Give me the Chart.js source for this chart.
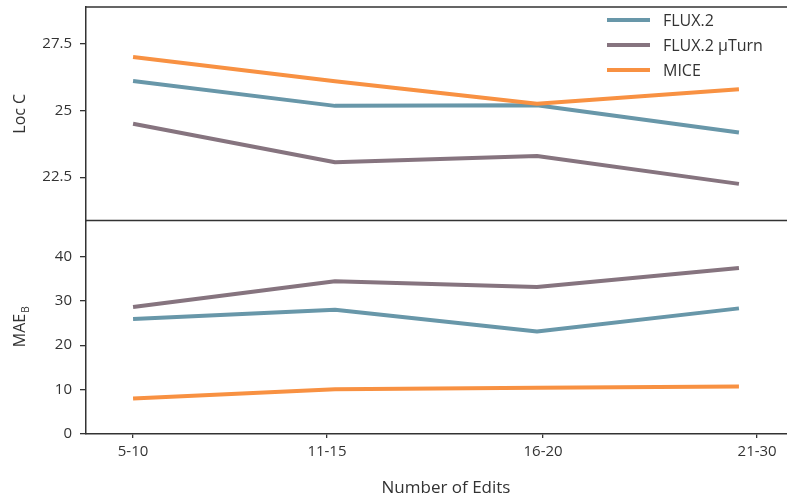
<!DOCTYPE html>
<html>
<head>
<meta charset="utf-8">
<script src="https://cdn.jsdelivr.net/npm/chart.js@4.4.1/dist/chart.umd.min.js"></script>
<style>
    html, body { margin: 0; padding: 0; background: #fff; }
    #wrap { width: 787px; height: 498px; overflow: hidden; }
</style>
</head>
<body>
<div id="wrap"><canvas id="chart" width="806" height="498"></canvas></div>
<script>
// ---------------------------------------------------------
// data
// ---------------------------------------------------------
const editBins = ['5-10', '11-15', '16-20', '21-30'];
const seriesNames = ['FLUX.2', 'FLUX.2 μTurn', 'MICE'];

const locCFlux   = [26.10, 25.17, 25.19, 24.17];
const locCUTurn  = [24.50, 23.06, 23.29, 22.25];
const locCMice   = [27.00, 26.09, 25.25, 25.79];

const maeFlux    = [25.9, 28.0, 23.1, 28.3];
const maeUTurn   = [28.6, 34.4, 33.1, 37.4];
const maeMice    = [8.0, 10.1, 10.4, 10.7];

const locCTicks = [22.5, 25, 27.5];
const maeTicks  = [0, 10, 20, 30, 40];

// ---------------------------------------------------------
// look
// ---------------------------------------------------------
const COLORS = ['#6897a9', '#86747f', '#f89142'];
const INK = '#333333';
const FONT = '"Open Sans", "DejaVu Sans", sans-serif';
// the x tick marks in the source sit a little off the data columns
const xTickAt = [0, 0.96, 2.03, 3.09];

function pts(values) {
    return values.map((v, i) => ({ x: i, y: v }));
}

function makeSet(i, values, axis) {
    return {
        label: seriesNames[i],
        data: pts(values),
        yAxisID: axis,
        borderColor: COLORS[i],
        backgroundColor: COLORS[i],
        borderWidth: 4,
        pointRadius: 0,
        borderJoinStyle: 'round',
        tension: 0,
        order: 2 - i
    };
}

const datasets = [
    makeSet(0, locCFlux, 'loc'), makeSet(1, locCUTurn, 'loc'), makeSet(2, locCMice, 'loc'),
    makeSet(0, maeFlux, 'mae'), makeSet(1, maeUTurn, 'mae'), makeSet(2, maeMice, 'mae')
];

function yAxis(min, max, tickList) {
    return {
        type: 'linear',
        position: 'left',
        stack: 'panels',
        stackWeight: 1,
        min: min,
        max: max,
        afterBuildTicks: s => { s.ticks = tickList.map(v => ({ value: v })); },
        afterFit: s => {
            s.width = 86;
            s.paddingTop = 0;
            s.paddingBottom = 0;
        },
        ticks: {
            color: INK,
            font: { family: FONT, size: 15 },
            padding: 8,
            callback: v => String(v)
        },
        grid: { drawOnChartArea: false, drawTicks: true, tickLength: 6, color: INK, lineWidth: 1.3 },
        border: { display: true, color: INK, width: 1.5 }
    };
}

// frame, divider, axis titles and the legend inside the top panel
const decorPlugin = {
    id: 'decor',
    afterDraw(chart) {
        const ctx = chart.ctx;
        const a = chart.chartArea;
        const loc = chart.scales.loc;
        ctx.save();
        ctx.strokeStyle = INK;
        ctx.lineWidth = 1.5;
        ctx.beginPath();
        ctx.moveTo(a.left, a.top);
        ctx.lineTo(a.right, a.top);
        ctx.lineTo(a.right, a.bottom);
        ctx.moveTo(a.left, loc.bottom);
        ctx.lineTo(a.right, loc.bottom);
        ctx.stroke();

        // y titles
        ctx.fillStyle = INK;
        ctx.textBaseline = 'middle';
        ctx.font = '16px ' + FONT;
        ctx.save();
        ctx.translate(20, (loc.top + loc.bottom) / 2);
        ctx.rotate(-Math.PI / 2);
        ctx.textAlign = 'center';
        ctx.fillText('Loc C', 0, 0);
        ctx.restore();

        const mae = chart.scales.mae;
        ctx.save();
        ctx.translate(20, (mae.top + mae.bottom) / 2);
        ctx.rotate(-Math.PI / 2);
        ctx.textAlign = 'left';
        ctx.font = '16px ' + FONT;
        const wMain = ctx.measureText('MAE').width;
        ctx.font = '10px ' + FONT;
        const wSub = ctx.measureText('B').width;
        const x0 = -(wMain + wSub) / 2;
        ctx.font = '16px ' + FONT;
        ctx.fillText('MAE', x0, 0);
        ctx.font = '10px ' + FONT;
        ctx.fillText('B', x0 + wMain + 1, 6);
        ctx.restore();

        // legend
        ctx.font = '16px ' + FONT;
        ctx.textAlign = 'left';
        for (let i = 0; i < 3; i++) {
            const y = 20 + i * 25;
            ctx.strokeStyle = COLORS[i];
            ctx.lineWidth = 4;
            ctx.beginPath();
            ctx.moveTo(607, y);
            ctx.lineTo(650, y);
            ctx.stroke();
            ctx.fillStyle = INK;
            ctx.fillText(chart.data.datasets[i].label, 663, y + 1);
        }
        ctx.restore();
    }
};

new Chart(document.getElementById('chart'), {
    type: 'line',
    data: { datasets: datasets },
    options: {
        responsive: false,
        animation: false,
        layout: { padding: { top: 7, left: 0, right: 0, bottom: 0 } },
        plugins: {
            legend: { display: false },
            tooltip: { enabled: false }
        },
        scales: {
            x: {
                type: 'linear',
                position: 'bottom',
                min: -0.233,
                max: 3.332,
                afterBuildTicks: s => { s.ticks = xTickAt.map(v => ({ value: v })); },
                afterFit: s => {
                    s.height = 64;
                    s.paddingLeft = 0;
                    s.paddingRight = 0;
                },
                ticks: {
                    color: INK,
                    font: { family: FONT, size: 15 },
                    padding: 5,
                    maxRotation: 0,
                    autoSkip: false,
                    callback: (v, i) => editBins[i]
                },
                grid: { drawOnChartArea: false, drawTicks: true, tickLength: 4, color: INK, lineWidth: 1.3 },
                border: { display: true, color: INK, width: 1.5 },
                title: {
                    display: true,
                    text: 'Number of Edits',
                    color: INK,
                    font: { family: FONT, size: 17 },
                    padding: { top: 1, bottom: 0 }
                }
            },
            mae: yAxis(0, 48.1, maeTicks),
            loc: yAxis(20.88, 28.87, locCTicks)
        }
    },
    plugins: [decorPlugin]
});
</script>
</body>
</html>
